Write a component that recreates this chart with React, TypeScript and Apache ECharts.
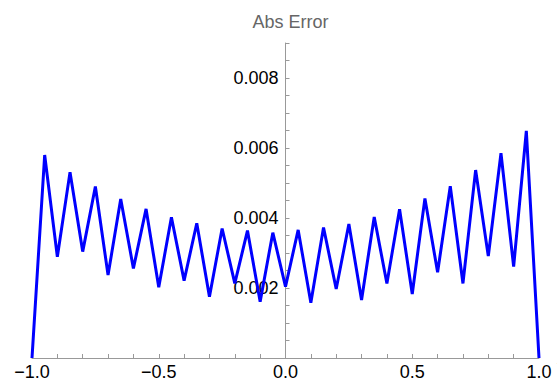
import React, { useEffect, useRef } from "react";
import * as echarts from "echarts";

const xValues = [
  -1.0, -0.95, -0.9, -0.85, -0.8, -0.75, -0.7, -0.65, -0.6, -0.55, -0.5,
  -0.45, -0.4, -0.35, -0.3, -0.25, -0.2, -0.15, -0.1, -0.05, 0.0,
  0.05, 0.1, 0.15, 0.2, 0.25, 0.3, 0.35, 0.4, 0.45, 0.5,
  0.55, 0.6, 0.65, 0.7, 0.75, 0.8, 0.85, 0.9, 0.95, 1.0,
];

const absError = [
  0.0, 0.0058, 0.00289, 0.00531, 0.00304, 0.0049, 0.00237, 0.00454, 0.00256, 0.00426, 0.00202,
  0.00402, 0.00221, 0.00385, 0.00175, 0.0037, 0.00213, 0.00364, 0.00161, 0.00358, 0.00204,
  0.00366, 0.00158, 0.00373, 0.00197, 0.00383, 0.00166, 0.00403, 0.00213, 0.00425, 0.00183,
  0.00456, 0.00245, 0.00491, 0.00213, 0.00537, 0.00291, 0.00585, 0.00261, 0.00649, 0.0,
];

const titleText = "Abs Error";
const xAxisName = "x";

const GRID_LEFT = 32;
const GRID_RIGHT = 18;
const PLOT_WIDTH = 557 - GRID_LEFT - GRID_RIGHT;

export default function App() {
  const ref = useRef<HTMLDivElement>(null);

  useEffect(() => {
    if (!ref.current) return;
    const chart = echarts.init(ref.current, null, { renderer: "svg" });
    const axisGray = "#999999";
    const font = "Arial, 'Liberation Sans', sans-serif";
    chart.setOption({
      animation: false,
      title: {
        text: titleText,
        left: GRID_LEFT + PLOT_WIDTH / 2,
        textAlign: "center",
        top: 8,
        textStyle: { color: "#666666", fontSize: 18, fontWeight: "normal", fontFamily: font },
      },
      grid: {
        left: GRID_LEFT,
        right: GRID_RIGHT,
        top: 43,
        bottom: 25,
        containLabel: false,
        outerBoundsMode: "none",
      },
      xAxis: {
        type: "value",
        min: -1,
        max: 1,
        interval: 0.5,
        name: xAxisName,
        nameLocation: "end",
        nameGap: 14,
        nameTextStyle: { color: "#999999", fontSize: 18, fontStyle: "italic", fontFamily: font, verticalAlign: "middle" },
        axisLine: { show: true, onZero: false, lineStyle: { color: axisGray, width: 1 } },
        axisTick: { show: true, inside: true, length: 4, lineStyle: { color: axisGray } },
        minorTick: { show: true, splitNumber: 5, length: 4, lineStyle: { color: axisGray } },
        splitLine: { show: false },
        minorSplitLine: { show: false },
        axisLabel: {
          color: "#000000",
          fontSize: 18,
          fontFamily: font,
          margin: 5,
          formatter: (v: number) => v.toFixed(1).replace("-", "\u2212"),
        },
      },
      yAxis: {
        type: "value",
        min: 0,
        max: 0.009,
        interval: 0.0005,
        position: "left",
        offset: -PLOT_WIDTH / 2,
        axisLine: { show: true, onZero: false, lineStyle: { color: axisGray, width: 1 } },
        axisTick: { show: true, inside: true, length: 4, lineStyle: { color: axisGray } },
        splitLine: { show: false },
        axisLabel: {
          color: "#000000",
          fontSize: 18,
          fontFamily: font,
          margin: 7,
          showMinLabel: false,
          formatter: (v: number) => {
            const k = Math.round(v * 10000);
            if (k === 0 || k % 20 !== 0) return "";
            return v.toFixed(3);
          },
        },
      },
      series: [
        {
          type: "line",
          data: xValues.map((x, i) => [x, absError[i]]),
          showSymbol: false,
          symbol: "none",
          lineStyle: { color: "#0000ff", width: 3, join: "miter" },
          z: 3,
        },
      ],
    });
    return () => chart.dispose();
  }, []);

  return (
    <div
      ref={ref}
      style={{ position: "fixed", left: 0, top: 0, width: 557, height: 383, background: "#ffffff" }}
    />
  );
}
